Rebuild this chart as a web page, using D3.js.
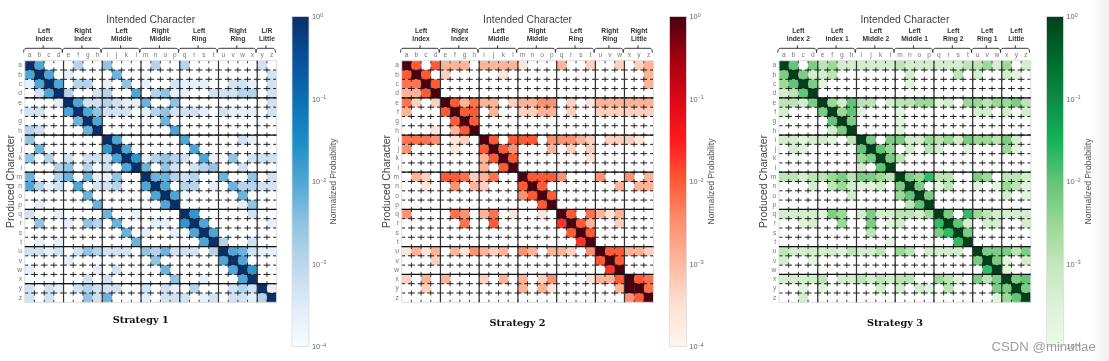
<!DOCTYPE html>
<html><head><meta charset="utf-8">
<script src="https://cdn.jsdelivr.net/npm/d3@7/dist/d3.min.js"></script>
<style>html,body{margin:0;padding:0;background:#fff;overflow:hidden}svg{display:block;filter:blur(.4px)}text{font-family:"Liberation Sans",Arial,sans-serif}</style>
</head><body><svg id="c" width="1109" height="361"></svg>
<script>
const letters = "abcdefghijklmnopqrstuvwxyz".split("");
// probability represented by each digit in the matrices below (estimated from the colours)
const levelValues = [0, 2.3e-4, 5e-4, 1.2e-3, 3e-3, 6e-3, 1e-2, 2e-2, 4e-2, 1];

const strategy1 = [
"9600 0300 4000 0300 3000 0000 20",
"6960 1000 0500 0000 0000 0000 02",
"1696 0330 1040 1002 1110 0221 02",
"0269 3002 3006 0341 1002 2233 02",
"0001 9622 3211 5004 0000 0000 02",
"2200 6964 2220 1342 2210 2111 02",
"0000 0596 0000 0050 0000 0000 00",
"3200 0059 0000 0006 0000 0000 00",
"4000 0000 9600 0000 6000 0021 00",
"0500 0000 7960 0000 0600 0000 00",
"4030 2022 2697 1343 2061 0402 22",
"0003 4030 2069 5042 0234 0020 00",
"5003 5051 1400 9553 2300 5004 02",
"6312 0602 2300 6960 3301 0533 22",
"0000 0050 0000 0696 0000 0050 00",
"0100 0005 0000 0069 0000 0014 00",
"2001 0000 5001 0000 9700 0002 00",
"0400 1043 0500 0110 7960 0000 01",
"0000 0000 0050 1001 0696 0000 00",
"0101 0000 0005 0000 0069 3002 00",
"2212 0243 2220 4352 2203 9652 11",
"0000 1000 0000 0400 0000 6960 00",
"1000 0001 0200 0050 0000 0697 00",
"0000 0020 2000 0004 0010 0069 00",
"2021 0232 2200 2021 0300 0232 91",
"2020 0042 5000 1022 2012 0221 39"];

const strategy2 = [
"9606 3330 3333 1000 3002 0020 23",
"6960 2000 0010 0000 0000 0000 03",
"5596 0000 0000 0000 0000 0000 03",
"3369 0000 0000 0000 0000 0000 00",
"5202 9635 3302 3344 0201 3333 33",
"3000 6966 0300 2233 0200 2222 22",
"0000 0696 0000 0000 0000 0000 00",
"0001 0369 0000 0000 0000 0000 00",
"5554 0120 9606 6604 4432 0222 10",
"4000 0100 6964 0003 0202 0000 00",
"0000 0000 3696 0000 0001 0000 00",
"0000 0000 3069 0000 0000 0000 00",
"0320 6652 3500 9666 4000 4004 03",
"0010 0403 2000 6960 0000 0030 33",
"0000 0000 0000 4696 0000 0000 00",
"0000 0000 0000 0069 0000 0000 00",
"4000 0540 3501 0010 9605 3130 00",
"0000 0050 0600 0000 7963 0020 00",
"0000 0000 0000 0000 0696 0000 00",
"0000 0000 0000 0000 0079 0000 00",
"1313 0314 3230 4303 3204 9663 32",
"0002 0000 0000 0000 0000 6960 00",
"0000 0000 0000 0000 0000 0790 00",
"2030 3000 2030 3024 0001 3369 65",
"0020 0000 0000 3031 0000 0039 95",
"0000 0000 0000 0000 0000 0004 69"];

const strategy3 = [
"9605 3422 2222 3222 2223 342 402",
"5952 2300 0000 0200 0030 200 210",
"4695 1000 0000 0100 0000 000 000",
"2369 0000 0000 0000 0000 000 000",
"3325 9426 3302 3344 1204 434 453",
"2000 5946 1000 1000 0000 220 202",
"0000 0695 0000 1000 0000 000 000",
"0000 0259 0000 1000 0000 000 000",
"2212 2103 9505 5224 3425 443 520",
"0210 0000 6964 0203 2001 000 410",
"0000 0000 4595 3000 0000 000 000",
"0000 0000 2069 0000 0000 000 000",
"3323 3453 5543 9547 3300 540 332",
"0002 0342 1120 5950 1300 101 431",
"0000 0002 0000 4695 0000 000 201",
"0000 0000 0000 0369 0000 000 000",
"2222 1540 2522 3324 9507 432 222",
"0012 0040 0501 2000 7962 022 002",
"0000 0000 0300 0000 5795 000 000",
"0000 0000 0001 0000 0079 000 000",
"3222 2213 2230 4302 2220 955 535",
"2001 0000 0000 0000 0000 595 102",
"0000 0000 0000 0000 0000 079 100",
"2222 3022 3232 3300 4310 535 956",
"0010 1000 0020 2021 0300 005 595",
"0020 0000 0000 0000 0000 001 469"];

const groups1 = [["Left","Index",4],["Right","Index",4],["Left","Middle",4],["Right","Middle",4],["Left","Ring",4],["Right","Ring",4],["L/R","Little",2]];
const groups2 = [["Left","Index",4],["Right","Index",4],["Left","Middle",4],["Right","Middle",4],["Left","Ring",4],["Right","Ring",3],["Right","Little",3]];
const groups3 = [["Left","Index 2",4],["Left","Index 1",4],["Left","Middle 2",4],["Left","Middle 1",4],["Left","Ring 2",4],["Left","Ring 1",3],["Left","Little",3]];

const stops = [0,.125,.25,.375,.5,.625,.75,.875,1];
const blues = ["#f7fbff","#dfecf8","#bcd6ec","#8fc3e2","#4fa6d6","#1b8cc8","#0b6fb5","#084f98","#08306b"];
const reds  = ["#fff5f0","#fee0d4","#fdb9a0","#fd9070","#ff5a36","#ff1a1c","#dc0814","#a2000f","#4a0010"];
const greens= ["#eef8ea","#dcf2d7","#c2e7bc","#98d894","#62c476","#14b35a","#0b8c47","#016a2e","#00401b"];

const panels = [
 {name:"Strategy 1", m:strategy1, g:groups1, c:blues,  x0:24.8,  bar:292,  prodX:10,  sy:323},
 {name:"Strategy 2", m:strategy2, g:groups2, c:reds,   x0:401.7, bar:669.5,prodX:386, sy:326},
 {name:"Strategy 3", m:strategy3, g:groups3, c:greens, x0:779,   bar:1046.5,prodX:763,sy:326}
];
const W = 251.8, gridTop = 60.7, H = 241.6, barW = 17;
const svg = d3.select("#c");
const defs = svg.append("defs");

const shade = defs.append("linearGradient").attr("id","edge");
shade.append("stop").attr("offset",0).attr("stop-color","#fff");
shade.append("stop").attr("offset",1).attr("stop-color","#efefef");
svg.append("rect").attr("x",1090).attr("y",0).attr("width",19).attr("height",361).attr("fill","url(#edge)");

const prob = d3.scaleLog().domain([1e-4,1]).range([346.5,16.5]);

panels.forEach((p,pi)=>{
  const g = svg.append("g");
  const x = d3.scaleBand().domain(letters).range([p.x0,p.x0+W]);
  const y = d3.scaleBand().domain(letters).range([gridTop,gridTop+H]);
  const color = d3.scaleLinear().domain(stops).range(p.c);
  const tOf = d3.scaleLog().domain([1e-4,1]).range([0,1]).clamp(true);
  const cells = [];
  p.m.forEach((row,r)=>{
    row.replace(/ /g,"").padEnd(26,"0").split("").forEach((d,c)=>{
      cells.push({r:letters[r],c:letters[c],v:levelValues[+d]});
    });
  });
  g.selectAll("rect.cell").data(cells.filter(d=>d.v>0)).join("rect")
    .attr("x",d=>x(d.c)).attr("y",d=>y(d.r))
    .attr("width",x.bandwidth()+.2).attr("height",y.bandwidth()+.2)
    .attr("fill",d=>color(tOf(d.v)));

  // dashed grid: one dash centred on every cell corner
  const inner = letters.slice(1);
  const dashV = 5.2, dashH = 6.8;
  g.selectAll("line.v").data(inner).join("line")
    .attr("class","v").attr("x1",d=>x(d)).attr("x2",d=>x(d)).attr("y1",gridTop).attr("y2",gridTop+H)
    .attr("stroke","#222").attr("stroke-width",.9)
    .attr("stroke-dasharray",`${dashV} ${y.bandwidth()-dashV}`).attr("stroke-dashoffset",dashV/2);
  g.selectAll("line.h").data(inner).join("line")
    .attr("class","h").attr("y1",d=>y(d)).attr("y2",d=>y(d)).attr("x1",p.x0).attr("x2",p.x0+W)
    .attr("stroke","#111").attr("stroke-width",.95)
    .attr("stroke-dasharray",`${dashH} ${x.bandwidth()-dashH}`).attr("stroke-dashoffset",dashH/2);

  // frame
  g.append("rect").attr("x",p.x0).attr("y",gridTop).attr("width",W).attr("height",H)
    .attr("fill","none").attr("stroke","#ddd").attr("stroke-width",1);

  // group separators, braces, labels
  let idx = 0;
  p.g.forEach((gr,i)=>{
    const a = letters[idx], b = letters[idx+gr[2]-1];
    const xa = x(a), xb = x(b)+x.bandwidth(), cx = (xa+xb)/2;
    if(i>0){
      g.append("line").attr("x1",xa).attr("x2",xa).attr("y1",gridTop).attr("y2",gridTop+H).attr("stroke","#333").attr("stroke-width",1.2);
      g.append("line").attr("y1",y(a)).attr("y2",y(a)).attr("x1",p.x0).attr("x2",p.x0+W).attr("stroke","#111").attr("stroke-width",1.2);
    }
    const bx0 = xa-1.2, bx1 = xb-1.2;
    g.append("path").attr("fill","none").attr("stroke","#222").attr("stroke-width",.9)
      .attr("d",`M${bx0},52.5 Q${bx0},48.3 ${bx0+2.5},48.3 L${bx1-2.5},48.3 Q${bx1},48.3 ${bx1},52.5 M${cx-1},48.3 L${cx-1},45.3`);
    g.append("text").attr("x",cx).attr("y",33).attr("text-anchor","middle").attr("font-size",6.7).attr("font-weight",700).attr("fill","#333").text(gr[0]);
    g.append("text").attr("x",cx).attr("y",41).attr("text-anchor","middle").attr("font-size",6.7).attr("font-weight",700).attr("fill","#333").text(gr[1]);
    idx += gr[2];
  });

  // letter axes
  const axT = g.append("g").attr("transform",`translate(0,${gridTop-.5})`).call(d3.axisTop(x).tickSize(0).tickPadding(3));
  const axL = g.append("g").attr("transform",`translate(${p.x0-.3},0)`).call(d3.axisLeft(y).tickSize(0).tickPadding(2.5));
  [axT,axL].forEach(a=>{a.select(".domain").remove();a.selectAll("text").attr("font-size",6.6).attr("fill","#777").style("font-family",'"Liberation Sans",Arial,sans-serif');});

  g.append("text").attr("x",p.x0+W/2).attr("y",22.5).attr("text-anchor","middle").attr("font-size",10.4).attr("fill","#444").text("Intended Character");
  g.append("text").attr("transform",`translate(${p.prodX+3.5},181.5) rotate(-90)`).attr("text-anchor","middle").attr("font-size",10.4).attr("fill","#444").text("Produced Character");
  g.append("text").attr("x",p.x0+W/2-10).attr("y",p.sy).attr("text-anchor","middle").attr("font-size",9.7).attr("font-weight",700).attr("fill","#111").style("font-family",'"DejaVu Serif",serif').text(p.name);

  // colour bar
  const gid = "cb"+pi;
  const gr = defs.append("linearGradient").attr("id",gid).attr("x1",0).attr("y1",1).attr("x2",0).attr("y2",0);
  stops.forEach((s,i)=>gr.append("stop").attr("offset",s).attr("stop-color",p.c[i]));
  g.append("rect").attr("x",p.bar).attr("y",16.5).attr("width",barW).attr("height",330).attr("fill",`url(#${gid})`).attr("stroke","#ddd").attr("stroke-width",.8);
  const ax = g.append("g").attr("transform",`translate(${p.bar+barW},0)`)
    .call(d3.axisRight(prob).tickValues([1,.1,.01,.001,.0001]).tickSize(0).tickPadding(3).tickFormat(()=>""));
  ax.select(".domain").remove();
  ax.selectAll("text").style("font-family",'"Liberation Sans",Arial,sans-serif').attr("font-size",7.4).attr("fill","#666").each(function(d){
    const t = d3.select(this);
    t.append("tspan").text("10");
    t.append("tspan").attr("dy",-2.8).attr("font-size",5.2).text(d3.format(".0f")(Math.log10(d)).replace("-","\u2212"));
  });
  g.append("text").attr("transform",`translate(${p.bar+barW+27},181.5) rotate(-90)`).attr("text-anchor","middle").attr("font-size",8.6).attr("fill","#555").text("Normalized Probability");
});

svg.append("text").attr("x",991.5).attr("y",350.5).attr("font-size",13.2).attr("fill","#8c8c8c").attr("fill-opacity",.85).text("CSDN @minutiae");
</script></body></html>
